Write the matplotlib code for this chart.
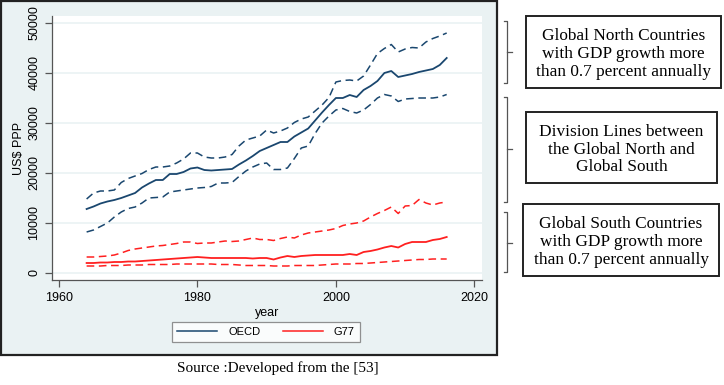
import matplotlib
matplotlib.use("Agg")
import matplotlib.pyplot as plt
from matplotlib.patches import Rectangle
from matplotlib.lines import Line2D

W, H = 724, 385
DPI = 100

years = list(range(1964, 2017))

oecd_mean = [12700, 13200, 13800, 14200, 14500, 14900, 15400, 15900, 17000, 17800,
             18500, 18500, 19700, 19700, 20100, 20800, 21000, 20500, 20400, 20500,
             20600, 20700, 21600, 22400, 23300, 24300, 24900, 25500, 26100, 26100,
             27200, 28000, 28800, 30400, 32000, 33500, 34900, 34900, 35500, 35100,
             36500, 37300, 38300, 39900, 40300, 39100, 39400, 39700, 40100, 40400,
             40700, 41500, 42900]
oecd_upper = [14700, 15900, 16300, 16300, 16500, 18000, 18800, 19300, 19800, 20600,
              21100, 21100, 21300, 21900, 22700, 23900, 23900, 23100, 22900, 22900,
              23100, 23600, 25300, 26500, 26900, 27300, 28500, 27900, 28300, 28900,
              30000, 30700, 31100, 32300, 33500, 35000, 38100, 38400, 38500, 38300,
              39300, 41500, 43800, 44800, 45600, 44100, 44700, 45000, 44900, 46100,
              46800, 47300, 47900]
oecd_lower = [8100, 8500, 9200, 9900, 11100, 12100, 12800, 13100, 13900, 14900,
              15000, 15100, 16100, 16300, 16500, 16700, 16900, 17000, 17200, 17900,
              17900, 18000, 19200, 20300, 21100, 21700, 21900, 20600, 20600, 20900,
              22800, 24900, 25300, 27800, 29900, 31300, 32500, 32800, 32200, 31900,
              32500, 33600, 34900, 35600, 35300, 34200, 34700, 34800, 34900, 34900,
              34900, 35100, 35600]

g77_mean = [1900, 1900, 2000, 2000, 2100, 2100, 2200, 2200, 2300, 2400,
            2500, 2600, 2700, 2800, 2900, 3000, 3100, 3000, 2900, 2900,
            2900, 2900, 2900, 2900, 2800, 2900, 2900, 2600, 3000, 3300,
            3100, 3300, 3400, 3500, 3500, 3500, 3500, 3500, 3700, 3500,
            4100, 4300, 4600, 5000, 5300, 5000, 5700, 6100, 6100, 6100,
            6500, 6700, 7100]
g77_upper = [3100, 3100, 3200, 3300, 3500, 3900, 4400, 4700, 4900, 5100,
             5300, 5400, 5600, 5800, 6100, 6100, 5800, 5900, 5900, 6100,
             6300, 6200, 6300, 6600, 6900, 6600, 6600, 6400, 6800, 7100,
             6900, 7500, 7900, 8100, 8300, 8500, 8800, 9400, 9700, 9900,
             10300, 11100, 11800, 12400, 13100, 11800, 13300, 13400, 14600, 13900,
             13500, 13900, 14100]
g77_lower = [1300, 1300, 1300, 1400, 1400, 1400, 1500, 1500, 1500, 1600,
             1600, 1600, 1600, 1700, 1700, 1700, 1700, 1700, 1700, 1600,
             1600, 1600, 1500, 1400, 1400, 1400, 1400, 1300, 1300, 1300,
             1400, 1400, 1400, 1400, 1500, 1600, 1700, 1700, 1700, 1800,
             1800, 1900, 2000, 2100, 2200, 2300, 2400, 2500, 2600, 2600,
             2700, 2700, 2700]

y_ticks = [0, 10000, 20000, 30000, 40000, 50000]
x_ticks = [1960, 1980, 2000, 2020]
series_names = ["OECD", "G77"]
notes = ["Global North Countries\nwith GDP growth more\nthan 0.7 percent annually",
         "Division Lines between\nthe Global North and\nGlobal South",
         "Global South Countries\nwith GDP growth more\nthan 0.7 percent annually"]

BLUE = "#1a476f"
RED = "#ff2020"
BG = "#eaf2f3"
SERIF = ["Liberation Serif", "DejaVu Serif"]


def fx(px):
    return px / W


def fy(py):
    return 1 - py / H


fig = plt.figure(figsize=(W / DPI, H / DPI), dpi=DPI)
plt.rcParams["font.family"] = ["Liberation Sans", "DejaVu Sans"]

# stata-like graph region behind the axes
fig.patches.append(Rectangle((fx(1), fy(355)), fx(496), fy(1) - fy(355),
                             transform=fig.transFigure, facecolor=BG,
                             edgecolor="#222222", linewidth=1.6, zorder=-1))

ax = fig.add_axes([fx(52), fy(280), fx(482) - fx(52), fy(16) - fy(280)])
ax.set_zorder(1)
ax.set_facecolor("white")
ax.set_xlim(1959.0, 2021.1)
ax.set_ylim(-1500, 51300)

for s in ["top", "right"]:
    ax.spines[s].set_visible(False)
for s in ["left", "bottom"]:
    ax.spines[s].set_color("#555555")
    ax.spines[s].set_linewidth(0.9)

ax.set_yticks(y_ticks)
ax.set_yticklabels([str(v) for v in y_ticks], rotation=90, va="center")
ax.set_xticks(x_ticks)
ax.tick_params(axis="both", labelsize=9, color="#555555", length=5, width=0.9)
ax.yaxis.grid(True, color=BG, linewidth=1.2)
ax.set_axisbelow(True)

dash = (0, (5, 3))
ax.plot(years, oecd_upper, color=BLUE, lw=1.1, linestyle=dash)
ax.plot(years, oecd_mean, color=BLUE, lw=1.3)
ax.plot(years, oecd_lower, color=BLUE, lw=1.1, linestyle=dash)
ax.plot(years, g77_upper, color=RED, lw=1.1, linestyle=dash)
ax.plot(years, g77_mean, color=RED, lw=1.3)
ax.plot(years, g77_lower, color=RED, lw=1.1, linestyle=dash)

ax.set_ylabel("US$ PPP", fontsize=9)
ax.yaxis.set_label_coords((25 - 52) / (482 - 52), 0.5)
ax.set_xlabel("year", fontsize=9)
ax.xaxis.set_label_coords(0.5, -(307 - 280) / (280 - 16))

handles = [Line2D([], [], color=BLUE, lw=1.1), Line2D([], [], color=RED, lw=1.1)]
leg = fig.legend(handles, series_names, loc="center", ncol=2,
                 bbox_to_anchor=(fx(266), fy(332)), fontsize=8, frameon=True,
                 fancybox=False, handlelength=3.6, columnspacing=2.0,
                 borderpad=0.45, handletextpad=1.0, borderaxespad=0)
leg.get_frame().set_edgecolor("#777777")
leg.get_frame().set_linewidth(0.9)

fig.text(fx(278), fy(368), "Source :Developed from the [53]", ha="center", va="center",
         fontsize=11, family=SERIF)

# brackets and boxes on the right
brackets = [(21, 83, 52), (97, 202, 149), (212, 272, 243)]
boxes = [(526, 16, 721, 88), (526, 112, 717, 183), (523, 204, 719, 276)]
for (t, b, m), (x0, y0, x1, y1), txt in zip(brackets, boxes, notes):
    bx = 507.5
    fig.add_artist(Line2D([fx(504), fx(bx), fx(bx), fx(504)], [fy(t), fy(t), fy(b), fy(b)],
                          color="#555555", lw=0.9))
    fig.add_artist(Line2D([fx(bx), fx(512)], [fy(m), fy(m)], color="#555555", lw=0.9))
    fig.patches.append(Rectangle((fx(x0), fy(y1)), fx(x1) - fx(x0), fy(y0) - fy(y1),
                                 transform=fig.transFigure, facecolor="white",
                                 edgecolor="#222222", linewidth=1.4))
    fig.text(fx((x0 + x1) / 2), fy((y0 + y1) / 2 + 2), txt, ha="center", va="center",
             fontsize=12.4, linespacing=1.15, family=SERIF)

fig.savefig("out.png", dpi=DPI)
